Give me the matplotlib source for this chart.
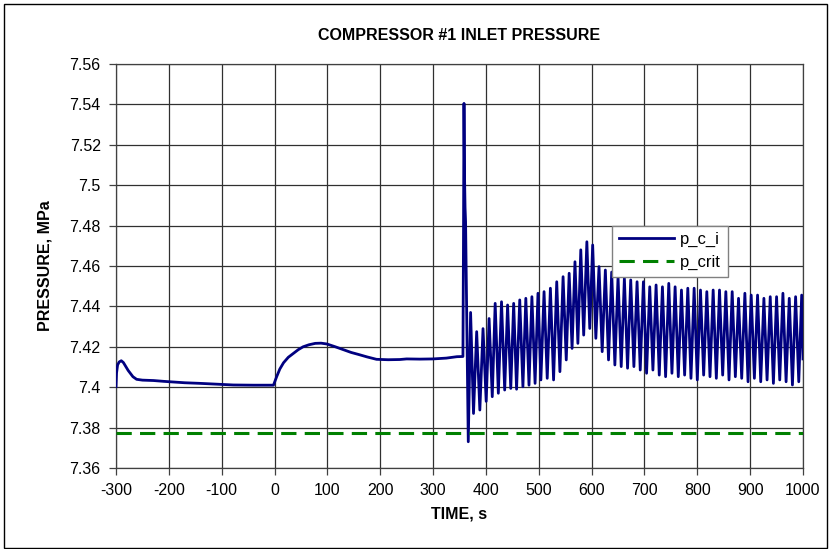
import matplotlib
matplotlib.use("Agg")
import matplotlib.pyplot as plt
import numpy as np
from matplotlib.patches import Rectangle

plt.rcParams.update({
    'font.family': ['Liberation Sans', 'DejaVu Sans'],
    'font.size': 11,
    'axes.unicode_minus': False,
})

# --- data ---
# slow transient before the surge (time s, pressure MPa)
pre_t = [-300, -299, -297, -294, -290, -286, -282, -277, -273, -268, -261, -250,
         -229, -210, -192, -170, -141, -110, -78, -40, -2,
         4, 10, 17, 26, 36, 45, 54, 65, 77, 88, 99, 115, 130, 145, 159, 175,
         193, 215, 237, 250, 275, 300, 325, 345, 356.5]
pre_p = [7.4003, 7.407, 7.411, 7.4125, 7.4131, 7.4122, 7.4105, 7.4083, 7.4069, 7.4052,
         7.4039, 7.4035, 7.4033, 7.4029, 7.4026, 7.4022, 7.4019, 7.4015, 7.4011,
         7.4010, 7.4010,
         7.4052, 7.4090, 7.4121, 7.4148, 7.4168, 7.4186, 7.4200, 7.4210, 7.4217,
         7.4218, 7.4214, 7.4200, 7.4186, 7.4172, 7.4162, 7.4150,
         7.4138, 7.4136, 7.4137, 7.4140, 7.4139, 7.4140, 7.4144, 7.4151, 7.4152]

# surge spike
spike_t = [357.5, 358.5, 359.5, 360.5, 361.5, 363.5, 366.6]
spike_p = [7.470, 7.5405, 7.505, 7.489, 7.482, 7.440, 7.373]

# oscillation peaks
peak_t = [371.0, 382.5, 394.5, 406.0, 417.5, 429.5, 441.0, 452.5, 464.0, 475.5,
          487.0, 498.5, 510.0, 522.0, 534.0, 546.0, 557.5, 568.5, 579.5, 591.0,
          602.0, 614.0, 626.0, 638.0, 650.0, 662.0, 674.0, 686.0, 698.0, 710.0,
          722.0, 734.0, 746.0, 758.0, 770.0, 782.0, 794.0, 806.0, 818.0, 830.0,
          842.0, 854.0, 866.0, 878.0, 890.0, 902.0, 914.0, 926.0, 938.0, 950.0,
          962.0, 974.0, 986.0, 997.5]
peak_p = [7.4370, 7.4275, 7.4290, 7.4340, 7.4415, 7.4423, 7.4407, 7.4415, 7.4432, 7.4440,
          7.4448, 7.4465, 7.4473, 7.4490, 7.4522, 7.4547, 7.4564, 7.4621, 7.4680, 7.4720,
          7.4704, 7.4597, 7.4580, 7.4570, 7.4547, 7.4539, 7.4531, 7.4522, 7.4522, 7.4497,
          7.4506, 7.4497, 7.4514, 7.4497, 7.4481, 7.4490, 7.4490, 7.4481, 7.4473, 7.4481,
          7.4481, 7.4473, 7.4473, 7.4440, 7.4465, 7.4456, 7.4456, 7.4440, 7.4448, 7.4448,
          7.4465, 7.4440, 7.4448, 7.4456]

# oscillation troughs
trough_t = [376.5, 388.5, 400.5, 412.0, 423.5, 435.5, 447.0, 458.0, 470.0, 481.5,
            493.0, 504.0, 516.0, 528.0, 540.0, 552.0, 563.0, 574.0, 585.0, 596.5,
            608.0, 620.0, 632.0, 644.0, 656.0, 668.0, 680.0, 692.0, 704.0, 716.0,
            728.0, 740.0, 752.0, 764.0, 776.0, 788.0, 800.0, 812.0, 824.0, 836.0,
            848.0, 860.0, 872.0, 884.0, 896.0, 908.0, 920.0, 932.0, 944.0, 956.0,
            968.0, 980.0, 992.0]
trough_p = [7.3870, 7.3887, 7.3930, 7.3953, 7.3970, 7.3986, 7.3994, 7.3990, 7.4002, 7.4010,
            7.4019, 7.4036, 7.4044, 7.4036, 7.4077, 7.4135, 7.4192, 7.4217, 7.4258, 7.4291,
            7.4242, 7.4176, 7.4135, 7.4110, 7.4102, 7.4094, 7.4102, 7.4085, 7.4069, 7.4085,
            7.4060, 7.4052, 7.4069, 7.4052, 7.4060, 7.4044, 7.4036, 7.4060, 7.4052, 7.4044,
            7.4060, 7.4036, 7.4052, 7.4044, 7.4027, 7.4044, 7.4027, 7.4036, 7.4019, 7.4036,
            7.4027, 7.4011, 7.4027]

end_t = [1000.0]
end_p = [7.4140]

p_crit = 7.3775

# assemble p_c_i series
osc_t = peak_t + trough_t
osc_p = peak_p + trough_p
order = np.argsort(osc_t)
t_all = np.concatenate([pre_t, spike_t, np.array(osc_t)[order], end_t])
p_all = np.concatenate([pre_p, spike_p, np.array(osc_p)[order], end_p])

fig = plt.figure(figsize=(8.32, 5.49), dpi=100)
ax = fig.add_axes([116 / 832, 1 - 468 / 549, 687 / 832, 404 / 549])

ax.plot(t_all, p_all, color='#000080', linewidth=2.0, label='p_c_i', zorder=3,
        solid_joinstyle='round')
ax.plot([-300, 1000], [p_crit, p_crit], color='#008000', linewidth=2.2,
        linestyle=(0, (5, 2.7)), label='p_crit', zorder=3)

ax.set_xlim(-300, 1000)
ax.set_ylim(7.36, 7.56)
ax.set_xticks(np.arange(-300, 1001, 100))
ax.set_yticks(np.arange(7.36, 7.561, 0.02))
ax.set_yticklabels(['7.36', '7.38', '7.4', '7.42', '7.44', '7.46', '7.48',
                    '7.5', '7.52', '7.54', '7.56'])
ax.tick_params(axis='both', labelsize=11.5, length=5, width=0.9, color='#404040',
               direction='out', pad=6)
ax.grid(True, color='#303030', linewidth=0.9)
ax.set_axisbelow(True)
for s in ax.spines.values():
    s.set_color('#404040')
    s.set_linewidth(0.9)

ax.set_title('COMPRESSOR #1 INLET PRESSURE', fontsize=11.5, fontweight='bold', pad=17)
ax.set_xlabel('TIME, s', fontsize=11.5, fontweight='bold', labelpad=6)
ax.set_ylabel('PRESSURE, MPa', fontsize=11.5, fontweight='bold', labelpad=12)

leg = ax.legend(loc='upper left', bbox_to_anchor=(0.722, 0.600), fancybox=False,
                framealpha=1, edgecolor='#808080', facecolor='white',
                prop={'size': 12}, handlelength=3.3, borderpad=0.4,
                labelspacing=0.45, handletextpad=0.4, borderaxespad=0)
leg.get_frame().set_linewidth(1.0)
leg.set_zorder(5)

# outer chart-area border
fig.patches.append(Rectangle((4 / 832, 1 / 549), 823 / 832, 544 / 549,
                             transform=fig.transFigure, fill=False,
                             edgecolor='black', linewidth=1.0))

fig.savefig('out.png', dpi=100)
